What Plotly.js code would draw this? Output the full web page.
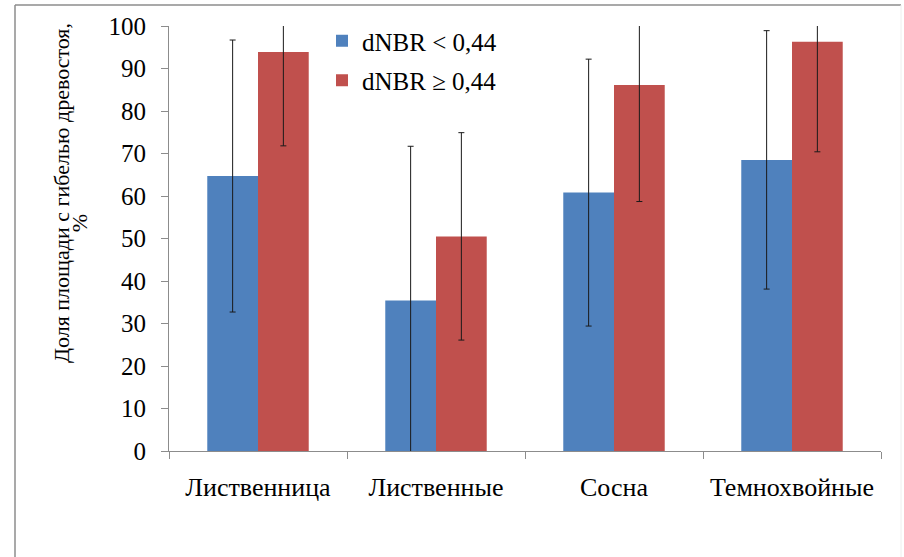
<!DOCTYPE html>
<html>
<head>
<meta charset="utf-8">
<script src="https://cdn.plot.ly/plotly-3.0.1.min.js"></script>
<style>
html,body{margin:0;padding:0;background:#fff;font-family:'Liberation Serif';}
#wrap{position:relative;width:904px;height:557px;}
#chart{width:904px;height:557px;}
.ytitle{position:absolute;z-index:5;font-family:'Liberation Serif';font-size:22px;line-height:1;color:#000;white-space:nowrap;transform:translate(-50%,-50%) rotate(-90deg);}
</style>
</head>
<body>
<div id="wrap">
<div id="chart"></div>
<div class="ytitle" id="yt1" style="left:62px;top:193px;"></div>
<div class="ytitle" id="yt2" style="left:80px;top:223px;"></div>
</div>
<script>
const categories = ['Лиственница', 'Лиственные', 'Сосна', 'Темнохвойные'];
const seriesNames = ['dNBR < 0,44', 'dNBR ≥ 0,44'];
const lowValues = [64.7, 35.4, 60.8, 68.5];
const lowErrors = [32.0, 36.3, 31.4, 30.4];
const highValues = [93.9, 50.5, 86.1, 96.3];
const highErrors = [22.1, 24.4, 27.4, 25.9];
const yTickValues = [0, 10, 20, 30, 40, 50, 60, 70, 80, 90, 100];
const yTitleLines = ['Доля площади с гибелью древостоя,', '%'];

document.getElementById('yt1').textContent = yTitleLines[0];
document.getElementById('yt2').textContent = yTitleLines[1];

const fontFamily = 'Liberation Serif';
const errStyle = {type: 'data', visible: true, color: '#1a1a1a', thickness: 1, width: 3};

const traces = [
  {type: 'bar', name: seriesNames[0], legendgroup: 'a', x: categories, y: lowValues,
   marker: {color: '#4F81BD'}, error_y: Object.assign({array: lowErrors}, errStyle)},
  {type: 'bar', name: seriesNames[1], legendgroup: 'b', x: categories, y: highValues,
   marker: {color: '#C0504D'}, error_y: Object.assign({array: highErrors}, errStyle)}
];

const L = 169, R = 23, T = 26, B = 106;
const W = 904 - L - R, H = 557 - T - B;
const px = x => (x - L) / W;
const py = y => (557 - B - y) / H;

const layout = {
  width: 904, height: 557,
  margin: {l: L, r: R, t: T, b: B, pad: 0},
  paper_bgcolor: '#ffffff', plot_bgcolor: '#ffffff',
  font: {family: fontFamily, size: 25, color: '#000'},
  barmode: 'group', bargap: 0.43, bargroupgap: 0,
  showlegend: true,
  legend: {
    x: px(322), y: py(18), xanchor: 'left', yanchor: 'top',
    bgcolor: 'rgba(0,0,0,0)', borderwidth: 0,
    traceorder: 'grouped', tracegroupgap: 4,
    font: {family: fontFamily, size: 25, color: '#000'}
  },
  xaxis: {
    type: 'category', showgrid: false, zeroline: false,
    showline: true, linecolor: '#8c8c8c', linewidth: 1,
    ticks: 'outside', tickson: 'boundaries', ticklen: 7, tickcolor: '#8c8c8c',
    tickfont: {family: fontFamily, size: 26, color: '#000'},
    ticklabelstandoff: 13
  },
  yaxis: {
    range: [0, 100], tickvals: yTickValues, showgrid: false, zeroline: false,
    showline: true, linecolor: '#8c8c8c', linewidth: 1,
    ticks: 'outside', ticklen: 7, tickcolor: '#8c8c8c',
    tickfont: {family: fontFamily, size: 25, color: '#000'},
    ticklabelstandoff: 10
  },
  shapes: [
    {type: 'line', xref: 'paper', yref: 'paper', x0: px(15), x1: px(15), y0: py(5), y1: py(560), line: {color: '#8c8c8c', width: 1.5}},
    {type: 'line', xref: 'paper', yref: 'paper', x0: px(15), x1: px(901), y0: py(5), y1: py(5), line: {color: '#8c8c8c', width: 1.5}},
    {type: 'line', xref: 'paper', yref: 'paper', x0: px(901), x1: px(901), y0: py(5), y1: py(560), line: {color: '#eeeeee', width: 1}}
  ]
};

function draw() {
  Plotly.newPlot('chart', traces, layout, {displayModeBar: false, staticPlot: true});
}
if (document.fonts && document.fonts.load) {
  Promise.all([
    document.fonts.load('25px "Liberation Serif"', 'Лиственница dNBR 0,44 ≥ %'),
    document.fonts.load('22px "Liberation Serif"', 'Доля площади')
  ]).then(draw, draw);
} else {
  draw();
}
</script>
</body>
</html>
